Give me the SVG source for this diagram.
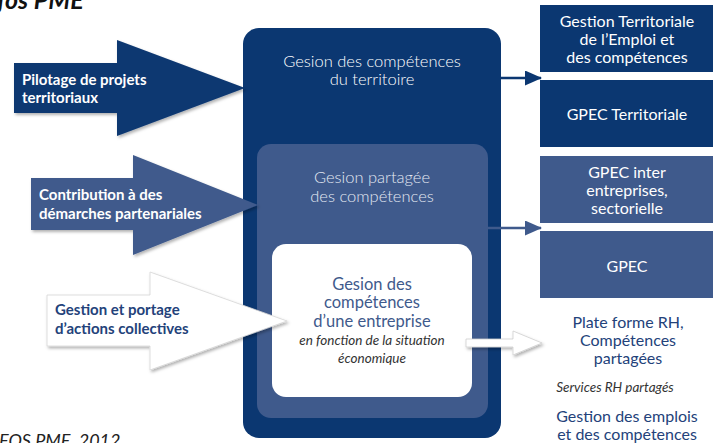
<svg xmlns="http://www.w3.org/2000/svg" width="713" height="443" viewBox="0 0 713 443">
<defs>
<style>
text{font-family:Lato,"Liberation Sans",sans-serif;font-weight:400}
.wt{fill:#ffffff}
.lbl{font-weight:700;font-size:15px}
.box-dark{fill:#0b3771}
.box-mid{fill:#3f5a8c}
.ctr{text-anchor:middle}
.rt{font-size:16px;fill:#ffffff;text-anchor:middle}
.blue{fill:#23427a}
.mt{font-size:16.5px;text-anchor:middle;font-weight:300}
.mi{font-size:16.5px;text-anchor:middle;fill:#3f5a8c}
.it{font-style:italic;text-anchor:middle;fill:#333}
</style>
<filter id="sh" x="-10%" y="-10%" width="130%" height="140%">
<feDropShadow dx="1.5" dy="2" stdDeviation="1.8" flood-color="#000" flood-opacity="0.3"/>
</filter>
<marker id="ahD" markerUnits="userSpaceOnUse" markerWidth="17" markerHeight="15" refX="16" refY="7.5" orient="auto">
<path d="M0,0 L17,7.5 L0,15 Z" fill="#0b3771"/>
</marker>
<marker id="ahM" markerUnits="userSpaceOnUse" markerWidth="17" markerHeight="15" refX="16" refY="7.5" orient="auto">
<path d="M0,0 L17,7.5 L0,15 Z" fill="#3f5a8c"/>
</marker>
</defs>
<rect width="713" height="443" fill="#ffffff"/>

<text x="-3" y="9" font-size="25" font-style="italic" fill="#111" style="font-weight:700">fos PME</text>
<text x="-1" y="447" font-size="18" font-style="italic" fill="#222">FOS PME, 2012</text>

<g id="territoire">
<rect x="243" y="28" width="258" height="410" rx="16" class="box-dark"/>
<text class="mt wt" x="372" y="67">Gesion des compétences</text>
<text class="mt wt" x="372" y="85">du territoire</text>
</g>
<g id="partagee">
<rect x="257" y="144" width="231" height="274" rx="14" class="box-mid"/>
<text class="mt" fill="#e3e8f2" x="372" y="183">Gesion partagée</text>
<text class="mt" fill="#e3e8f2" x="372" y="202">des compétences</text>
</g>
<g id="entreprise">
<rect x="272" y="244" width="200" height="153" rx="14" fill="#ffffff"/>
<text class="mi" x="372" y="290">Gesion des</text>
<text class="mi" x="372" y="308">compétences</text>
<text class="mi" x="372" y="327">d’une entreprise</text>
<text class="it" font-size="13.5" x="372" y="345">en fonction de la situation</text>
<text class="it" font-size="13.5" x="372" y="363">économique</text>
</g>

<g id="left-arrows">
<g id="pilotage">
<polygon points="14,63 117,63 117,40 245,88 117,136 117,113 14,113" class="box-dark" filter="url(#sh)"/>
<text class="lbl wt" x="22" y="85">Pilotage de projets</text>
<text class="lbl wt" x="22" y="103">territoriaux</text>
</g>
<g id="contribution">
<polygon points="31,178 133,178 133,155 258,205 133,255 133,230 31,230" class="box-mid" filter="url(#sh)"/>
<text class="lbl wt" x="39" y="200">Contribution à des</text>
<text class="lbl wt" x="39" y="219">démarches partenariales</text>
</g>
<g id="portage">
<polygon points="47,295 150,295 150,272 287,321 150,370 150,346 47,346" fill="#ffffff" stroke="#d6d6d6" stroke-width="0.8" filter="url(#sh)"/>
<text class="lbl" fill="#23427a" x="55" y="315">Gestion et portage</text>
<text class="lbl" fill="#23427a" x="55" y="334">d’actions collectives</text>
</g>
</g>

<g id="connectors">
<line x1="501" y1="78" x2="541" y2="78" stroke="#0b3771" stroke-width="2.5" marker-end="url(#ahD)"/>
<line x1="488" y1="228" x2="541" y2="228" stroke="#3f5a8c" stroke-width="2.5" marker-end="url(#ahM)"/>
<polygon points="466,339 513,339 513,331 542,343 513,355 513,347 466,347" fill="#ffffff" stroke="#cfcfcf" stroke-width="0.8" filter="url(#sh)"/>
</g>

<g id="gtec">
<rect x="540" y="5" width="173" height="67" class="box-dark"/>
<text class="rt" x="627" y="27">Gestion Territoriale</text>
<text class="rt" x="627" y="45">de l’Emploi et</text>
<text class="rt" x="627" y="63">des compétences</text>
</g>
<g id="gpec-territoriale">
<rect x="540" y="80" width="173" height="67" class="box-dark"/>
<text class="rt" x="627" y="120">GPEC Territoriale</text>
</g>
<g id="gpec-inter">
<rect x="540" y="156" width="173" height="67" class="box-mid"/>
<text class="rt" x="627" y="178">GPEC inter</text>
<text class="rt" x="627" y="196">entreprises,</text>
<text class="rt" x="627" y="214">sectorielle</text>
</g>
<g id="gpec">
<rect x="540" y="231" width="173" height="67" class="box-mid"/>
<text class="rt" x="627" y="272">GPEC</text>
</g>
<g id="plateforme">
<text class="blue ctr" font-size="16" x="628" y="328">Plate forme RH,</text>
<text class="blue ctr" font-size="16" x="628" y="346">Compétences</text>
<text class="blue ctr" font-size="16" x="628" y="364">partagées</text>
<text class="it" font-size="13.5" x="615" y="392">Services RH partagés</text>
<text class="blue ctr" font-size="16" x="627" y="422">Gestion des emplois</text>
<text class="blue ctr" font-size="16" x="627" y="440">et des compétences</text>
</g>
</svg>
